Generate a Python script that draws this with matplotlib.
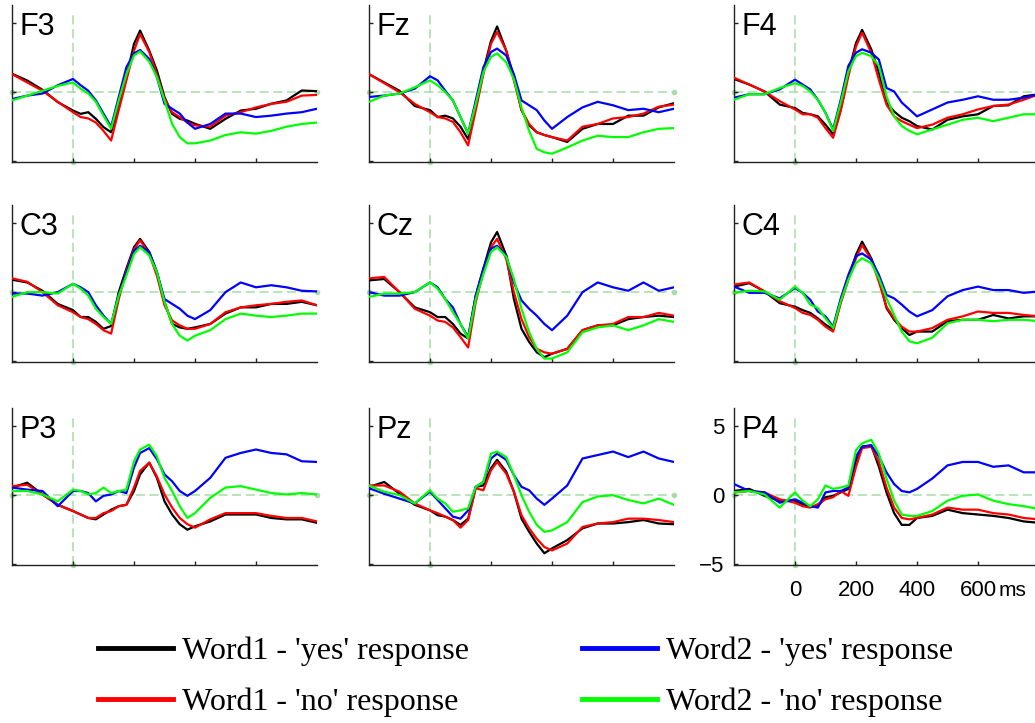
import numpy as np
import matplotlib
matplotlib.use('Agg')
import matplotlib.pyplot as plt
from matplotlib.lines import Line2D

plt.rcParams['font.family'] = ['Liberation Sans', 'DejaVu Sans']

# sample times (ms) and ERP amplitudes (uV)
times = [-200, -150, -100, -50, 0, 25, 50, 75, 100, 125, 150, 175, 200, 220, 250,
         275, 300, 325, 350, 375, 400, 450, 500, 550, 600, 650, 700, 750, 800]

electrodes = [['F3', 'Fz', 'F4'], ['C3', 'Cz', 'C4'], ['P3', 'Pz', 'P4']]

w1_yes = {
    'F3': [1.33, 0.84, 0.17, -0.72, -1.33, -1.57, -1.45, -1.93, -2.53, -2.9, -1.08, 1.08, 3.49, 4.45, 3.0, 1.57, -0.36, -1.57, -1.93, -2.05, -2.29, -2.65, -1.93, -1.33, -1.2, -0.84, -0.6, 0.12, 0.07],
    'Fz': [1.3, 0.7, 0.1, -1.0, -1.3, -1.8, -1.7, -1.9, -2.5, -3.4, -1.1, 1.55, 3.7, 4.75, 3.0, 1.1, -1.3, -2.4, -2.9, -3.1, -3.25, -3.6, -2.65, -2.3, -2.3, -1.7, -1.7, -1.1, -0.8],
    'F4': [0.95, 0.55, 0.05, -0.9, -1.15, -1.5, -1.6, -1.75, -2.35, -3.05, -1.25, 1.4, 3.55, 4.5, 3.1, 1.4, -0.75, -1.4, -1.85, -2.1, -2.45, -2.7, -2.0, -1.75, -1.6, -1.0, -0.95, -0.3, -0.15],
    'C3': [0.9, 0.7, 0.1, -0.85, -1.3, -1.8, -1.8, -2.15, -2.65, -2.45, 0.0, 1.7, 3.25, 3.85, 2.9, 1.45, -0.7, -2.3, -2.55, -2.65, -2.55, -2.3, -1.55, -1.1, -1.1, -0.85, -0.85, -0.7, -0.95],
    'Cz': [0.85, 0.95, 0.0, -1.1, -1.45, -1.8, -1.8, -2.3, -3.0, -3.35, -0.25, 1.7, 3.6, 4.35, 2.65, -0.5, -2.65, -3.6, -4.35, -4.7, -4.45, -4.1, -2.75, -2.4, -2.4, -1.95, -1.8, -1.7, -1.8],
    'C4': [0.4, 0.65, 0.05, -0.8, -1.05, -1.3, -1.5, -1.9, -2.35, -2.7, -0.65, 1.0, 2.7, 3.65, 2.45, 1.0, -1.15, -2.0, -2.6, -3.1, -2.85, -2.85, -2.1, -2.0, -2.0, -1.65, -1.9, -1.75, -1.75],
    'P3': [0.55, 0.9, 0.05, -0.7, -1.15, -1.4, -1.65, -1.75, -1.4, -1.05, -0.8, -0.7, 0.3, 1.5, 2.35, 1.25, -0.45, -1.4, -2.1, -2.5, -2.25, -1.9, -1.4, -1.4, -1.4, -1.65, -1.75, -1.75, -2.0],
    'Pz': [0.6, 0.95, 0.1, -0.7, -1.1, -1.45, -1.55, -1.8, -2.15, -1.7, 0.6, 0.7, 1.95, 2.55, 1.7, 0.25, -1.7, -2.65, -3.5, -4.2, -3.85, -3.25, -2.4, -2.05, -2.05, -1.95, -1.8, -2.05, -2.1],
    'P4': [0.3, 0.45, -0.05, -0.4, -0.4, -0.65, -0.8, -0.8, -0.15, -0.05, 0.2, 0.45, 2.5, 3.5, 3.6, 2.05, 0.2, -1.3, -2.15, -2.15, -1.65, -1.5, -1.05, -1.3, -1.4, -1.5, -1.65, -1.9, -2.0],
}

w1_no = {
    'F3': [1.3, 0.7, 0.1, -0.7, -1.45, -1.8, -1.9, -2.2, -2.8, -3.5, -1.3, 0.85, 3.0, 4.2, 2.9, 1.3, -0.5, -1.45, -1.8, -2.2, -2.4, -2.5, -1.7, -1.45, -1.1, -0.85, -0.7, -0.25, -0.2],
    'Fz': [1.3, 0.65, 0.0, -0.85, -1.45, -1.8, -1.9, -2.15, -2.9, -3.85, -1.3, 1.3, 3.5, 4.35, 3.0, 0.85, -1.3, -2.3, -2.9, -3.1, -3.25, -3.5, -2.5, -2.3, -1.9, -1.8, -1.55, -1.05, -0.9],
    'F4': [1.05, 0.55, 0.05, -0.65, -1.25, -1.6, -1.6, -1.85, -2.6, -3.3, -1.35, 1.15, 3.3, 4.3, 2.85, 0.9, -0.9, -1.75, -2.1, -2.35, -2.6, -2.35, -1.85, -1.6, -1.25, -1.0, -0.9, -0.55, -0.15],
    'C3': [1.0, 0.75, 0.0, -0.95, -1.45, -1.8, -1.95, -2.3, -2.75, -3.0, -0.5, 1.55, 3.1, 3.75, 2.75, 1.2, -0.95, -2.05, -2.4, -2.65, -2.65, -2.3, -1.45, -1.1, -0.95, -0.85, -0.7, -0.6, -0.95],
    'Cz': [1.0, 1.1, 0.0, -1.2, -1.7, -2.05, -2.15, -2.55, -3.25, -4.0, -0.7, 1.45, 3.25, 3.85, 2.4, 0.0, -1.95, -3.25, -4.1, -4.35, -4.45, -4.1, -2.75, -2.4, -2.3, -1.8, -1.8, -1.5, -1.7],
    'C4': [0.55, 0.7, 0.05, -0.65, -1.15, -1.5, -1.65, -2.0, -2.5, -2.85, -0.8, 0.9, 2.45, 3.4, 2.35, 0.75, -1.05, -1.9, -2.5, -2.85, -2.85, -2.6, -2.0, -1.75, -1.4, -1.5, -1.5, -1.65, -1.75],
    'P3': [0.65, 0.75, 0.05, -0.7, -1.15, -1.4, -1.65, -1.65, -1.3, -1.15, -0.8, -0.7, 0.55, 1.75, 2.35, 1.35, 0.05, -0.9, -1.65, -2.1, -2.35, -1.75, -1.3, -1.3, -1.3, -1.5, -1.65, -1.65, -1.9],
    'Pz': [0.7, 0.7, 0.25, -0.6, -1.1, -1.3, -1.55, -1.8, -2.35, -1.8, 0.5, 0.35, 1.8, 2.4, 1.55, 0.25, -1.45, -2.4, -3.15, -3.75, -4.0, -3.5, -2.3, -2.05, -1.95, -1.7, -1.7, -1.8, -1.95],
    'P4': [0.2, 0.3, 0.2, -0.3, -0.55, -0.8, -0.9, -0.65, -0.3, -0.15, 0.3, -0.05, 2.05, 3.4, 3.5, 2.4, 0.55, -0.9, -1.65, -1.75, -1.65, -1.4, -0.9, -1.05, -1.05, -1.3, -1.4, -1.65, -1.75],
}

w2_yes = {
    'F3': [-0.5, -0.25, -0.1, 0.5, 0.95, 0.5, 0.1, -0.6, -1.55, -2.5, -0.35, 1.8, 2.8, 3.05, 2.4, 1.1, -0.85, -1.2, -1.55, -2.2, -2.65, -2.3, -1.55, -1.55, -1.8, -1.7, -1.55, -1.45, -1.2],
    'Fz': [-0.35, -0.25, -0.1, 0.25, 1.15, 0.85, 0.1, -0.6, -1.8, -3.0, -0.6, 1.8, 2.9, 3.15, 2.65, 1.3, -0.6, -0.95, -1.3, -2.05, -2.65, -1.8, -1.1, -0.7, -0.95, -1.3, -1.2, -1.45, -1.2],
    'F4': [-0.4, -0.15, -0.15, 0.2, 0.9, 0.55, 0.2, -0.55, -1.5, -2.7, -0.55, 1.9, 2.85, 3.1, 2.85, 2.35, 0.3, 0.05, -0.75, -1.25, -1.75, -1.25, -0.75, -0.55, -0.3, -0.55, -0.55, -0.4, -0.15],
    'C3': [-0.1, -0.1, -0.25, 0.0, 0.6, 0.35, 0.0, -0.95, -1.7, -2.3, -0.25, 1.45, 3.0, 3.35, 2.9, 1.45, -0.5, -0.85, -1.2, -1.7, -1.95, -1.3, 0.0, 0.7, 0.35, 0.5, 0.35, 0.1, 0.05],
    'Cz': [0.0, -0.25, -0.25, 0.0, 0.7, 0.35, -0.5, -1.1, -2.3, -3.25, -0.25, 1.7, 3.15, 3.35, 2.65, 0.7, -0.6, -1.2, -1.7, -2.3, -2.75, -1.7, 0.0, 0.7, 0.35, 0.1, 0.7, 0.1, 0.35],
    'C4': [0.4, -0.05, -0.05, -0.45, 0.3, -0.05, -0.55, -1.4, -1.75, -2.5, -0.45, 1.25, 2.6, 2.8, 2.35, 1.25, -0.2, -0.45, -0.9, -1.4, -1.75, -1.3, -0.3, 0.15, 0.4, 0.15, 0.15, -0.05, 0.05],
    'P3': [0.55, 0.4, 0.3, -0.8, 0.3, 0.3, 0.15, -0.45, -0.05, 0.05, 0.3, 0.15, 2.0, 3.05, 3.4, 2.6, 1.5, 1.0, 0.3, -0.05, 0.3, 1.25, 2.7, 3.05, 3.3, 3.05, 2.95, 2.45, 2.4],
    'Pz': [0.5, 0.1, -0.25, -0.6, 0.25, -0.35, -0.95, -1.55, -1.7, -1.1, 0.6, 0.95, 2.65, 3.0, 2.55, 1.45, 0.6, 0.35, -0.25, -0.7, -0.25, 0.7, 2.65, 2.9, 3.15, 2.75, 3.15, 2.65, 2.4],
    'P4': [0.8, 0.3, 0.2, -0.55, -0.3, -0.55, -0.8, -0.9, 0.2, 0.3, 0.3, 0.55, 2.8, 3.5, 3.6, 2.8, 1.65, 0.8, 0.3, 0.2, 0.45, 1.2, 2.15, 2.4, 2.4, 2.05, 2.15, 1.65, 1.65],
}

w2_no = {
    'F3': [-0.6, -0.25, 0.1, 0.45, 0.7, 0.25, -0.1, -0.7, -1.7, -2.65, -0.6, 1.3, 2.65, 2.95, 2.2, 1.1, -0.6, -2.3, -3.25, -3.7, -3.7, -3.5, -3.1, -2.9, -3.0, -2.8, -2.5, -2.3, -2.2],
    'Fz': [-0.7, -0.25, -0.1, 0.35, 0.85, 0.5, 0.0, -0.6, -1.8, -3.0, -0.85, 1.45, 2.55, 2.8, 2.15, 0.95, -1.1, -2.8, -4.1, -4.35, -4.45, -4.0, -3.5, -3.15, -3.25, -3.25, -2.9, -2.65, -2.6],
    'F4': [-0.55, -0.15, -0.15, 0.3, 0.65, 0.45, 0.05, -0.55, -1.5, -2.8, -0.75, 1.5, 2.6, 2.85, 2.6, 1.9, -0.3, -1.75, -2.45, -2.8, -3.05, -2.7, -2.35, -2.0, -1.85, -2.1, -1.85, -1.6, -1.6],
    'C3': [-0.35, 0.0, 0.0, -0.1, 0.6, 0.25, -0.25, -1.2, -1.8, -2.3, -0.25, 1.2, 2.75, 3.25, 2.65, 1.45, -0.7, -2.3, -3.15, -3.5, -3.15, -2.75, -1.95, -1.55, -1.7, -1.8, -1.7, -1.55, -1.55],
    'Cz': [-0.35, -0.1, -0.1, 0.0, 0.7, 0.25, -0.5, -1.45, -2.3, -3.35, -0.5, 1.3, 2.9, 3.25, 2.55, 0.95, -1.2, -2.9, -4.1, -4.8, -4.8, -4.35, -2.9, -2.55, -2.4, -2.75, -2.4, -1.95, -2.15],
    'C4': [-0.05, 0.1, 0.05, -0.55, 0.4, -0.05, -0.9, -1.15, -1.9, -2.6, -0.65, 0.9, 2.1, 2.45, 2.1, 1.0, -0.45, -1.65, -2.85, -3.55, -3.7, -3.3, -2.25, -2.0, -2.0, -2.1, -2.0, -2.0, -2.1],
    'P3': [0.3, 0.3, 0.05, -0.45, 0.4, 0.3, 0.05, 0.15, 0.55, 0.15, 0.3, 0.4, 2.45, 3.3, 3.65, 2.8, 1.25, 0.3, -0.8, -1.65, -1.3, -0.2, 0.55, 0.65, 0.4, 0.15, 0.05, 0.15, 0.05],
    'Pz': [0.7, 0.25, 0.0, -0.6, 0.35, -0.25, -0.6, -1.2, -1.1, -0.95, 0.6, 0.95, 3.0, 3.15, 2.75, 1.45, 0.0, -1.2, -2.15, -2.65, -2.55, -1.95, -0.5, -0.1, 0.0, -0.35, -0.6, -0.25, -0.7],
    'P4': [0.2, 0.3, 0.05, -0.9, 0.2, -0.4, -0.8, -0.3, 0.7, 0.45, 0.55, 0.7, 3.25, 3.75, 4.0, 3.0, 1.2, -0.4, -1.4, -1.5, -1.5, -1.15, -0.4, -0.05, 0.05, -0.4, -0.65, -0.8, -1.0],
}

conditions = [w1_yes, w1_no, w2_yes, w2_no]
labels = ["Word1 - 'yes' response", "Word1 - 'no' response",
          "Word2 - 'yes' response", "Word2 - 'no' response"]
colors = ['#000000', '#ff0000', '#0000ff', '#00ff00']

W, H = 1035, 723
fig = plt.figure(figsize=(W / 100, H / 100), dpi=100)

col_left = [12, 369, 734]     # px
row_bottom = [162, 362, 565]  # px
ax_w, ax_h = 305, 157
ylo, yhi = -5.05, 6.3
zcol = '#a8dca8'

for r in range(3):
    for c in range(3):
        name = electrodes[r][c]
        ax = fig.add_axes([col_left[c] / W, 1 - row_bottom[r] / H, ax_w / W, ax_h / H])
        # reference lines
        ax.plot([-200, 800], [0, 0], ls=(0, (6, 3)), lw=1.1, color=zcol, zorder=1,
                marker='o', ms=3, clip_on=False)
        ax.plot([0, 0], [ylo, 5.6], ls=(0, (6, 3)), lw=1.1, color=zcol, zorder=1)
        ax.plot([0], [ylo], 'o', ms=3, color=zcol, clip_on=False, zorder=1)
        for cond, col in zip(conditions, colors):
            ax.plot(times, cond[name], color=col, lw=1.6, zorder=3)
        ax.set_xlim(-200, 800)
        ax.set_ylim(ylo, yhi)
        ax.set_xticks([0, 200, 400, 600])
        ax.set_yticks([-5, 0, 5])
        for s in ['top', 'right']:
            ax.spines[s].set_visible(False)
        for s in ['left', 'bottom']:
            ax.spines[s].set_linewidth(1.0)
            ax.spines[s].set_color('#222222')
        ax.tick_params(direction='in', length=3, width=1, color='#222222', labelsize=16)
        ax.tick_params(axis='x', pad=11)
        ax.tick_params(axis='y', pad=7)
        if name != 'P4':
            ax.tick_params(labelbottom=False, labelleft=False)
        ax.text(0.025, 0.955, name, transform=ax.transAxes, ha='left', va='top',
                fontsize=22, zorder=5)

fig.text(999 / W, 1 - 590 / H, 'ms', ha='left', va='center', fontsize=15)

handles = [Line2D([0], [0], color=c, lw=3.5) for c in colors]
fig.legend(handles, labels, ncol=2, loc='upper left',
           bbox_to_anchor=(98 / W, 1 - 637 / H), frameon=False,
           prop={'family': 'Liberation Serif', 'size': 23},
           handlelength=2.35, handletextpad=0.28, columnspacing=3.55,
           labelspacing=0.66, borderpad=0, borderaxespad=0)

fig.savefig('out.png', dpi=100)
